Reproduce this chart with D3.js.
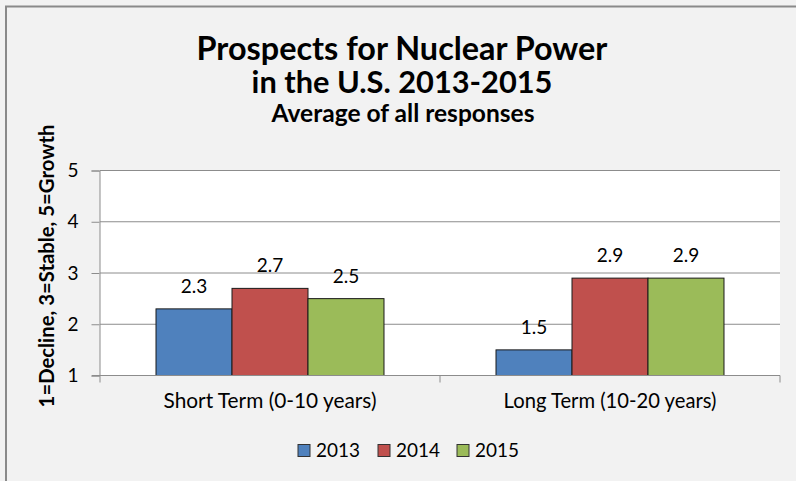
<!DOCTYPE html>
<html>
<head>
<meta charset="utf-8">
<script src="https://cdn.jsdelivr.net/npm/d3@7"></script>
<style>
  html, body { margin: 0; padding: 0; background: #f2f2f2; }
  svg { display: block; font-family: Lato, "Open Sans", sans-serif; }
</style>
</head>
<body>
<div id="chart"></div>
<script>
// Chart data
var categories = ["Short Term (0-10 years)", "Long Term (10-20 years)"];
var seriesNames = ["2013", "2014", "2015"];
var values2013 = [2.3, 1.5];
var values2014 = [2.7, 2.9];
var values2015 = [2.5, 2.9];
var yTicks = [1, 2, 3, 4, 5];
var colors = ["#4f81bd", "#c0504d", "#9bbb59"];

var W = 796, H = 481;
var plot = {left: 100, right: 780, top: 170.5, bottom: 375.5};

var svg = d3.select('#chart').append('svg').attr('width', W).attr('height', H);

// background + frame (only top/left edge is visible in the crop)
svg.append('rect').attr('width', W).attr('height', H).attr('fill', '#f2f2f2');
svg.append('path').attr('d', 'M6,' + H + 'V6.5H' + W)
  .attr('fill', 'none').attr('stroke', '#8a8a8a').attr('stroke-width', 2);

// shrink/grow the font so the text spans a given width
function fit(sel, w) {
  var fs = parseFloat(sel.attr('font-size'));
  var len = sel.node().getComputedTextLength();
  sel.attr('font-size', (fs * w / len).toFixed(2));
  return sel;
}

// titles
fit(svg.append('text').attr('x', 402).attr('y', 60).attr('text-anchor', 'middle')
  .attr('font-size', 28).attr('font-weight', 'bold').attr('fill', '#000')
  .text('Prospects for Nuclear Power'), 411);
fit(svg.append('text').attr('x', 402).attr('y', 93).attr('text-anchor', 'middle')
  .attr('font-size', 28).attr('font-weight', 'bold').attr('fill', '#000')
  .text('in the U.S. 2013-2015'), 301);
fit(svg.append('text').attr('x', 403).attr('y', 122).attr('text-anchor', 'middle')
  .attr('font-size', 19).attr('font-weight', 'bold').attr('fill', '#000')
  .text('Average of all responses'), 263);

// scales
var x0 = d3.scaleBand().domain(categories).range([plot.left, plot.right]);
var x1 = d3.scaleBand().domain(seriesNames).range([0, x0.bandwidth()])
  .paddingInner(0).paddingOuter(0.737);
var y = d3.scaleLinear().domain([1, 5]).range([plot.bottom, plot.top]);

// plot area
svg.append('rect').attr('x', plot.left).attr('y', plot.top)
  .attr('width', plot.right - plot.left).attr('height', plot.bottom - plot.top)
  .attr('fill', '#fff');

// grid lines + y ticks
svg.append('g').selectAll('line').data(yTicks.slice(1)).enter().append('line')
  .attr('x1', plot.left).attr('x2', plot.right)
  .attr('y1', function(d) { return y(d); }).attr('y2', function(d) { return y(d); })
  .attr('stroke', '#8c8c8c').attr('stroke-width', 1);

var yAxis = svg.append('g').attr('transform', 'translate(' + (plot.left - 0.5) + ',0)')
  .call(d3.axisLeft(y).tickValues(yTicks).tickSize(8).tickPadding(13).tickFormat(d3.format('d')));
yAxis.select('.domain').attr('stroke', '#8c8c8c');
yAxis.selectAll('.tick line').attr('stroke', '#8c8c8c');
yAxis.selectAll('.tick text').attr('font-size', 19).attr('fill', '#000')
  .attr('font-family', 'Lato, sans-serif');

// bars
var table = categories.map(function(c, i) {
  return {cat: c, vals: [values2013[i], values2014[i], values2015[i]]};
});

var groups = svg.append('g').selectAll('g').data(table).enter().append('g')
  .attr('transform', function(d) { return 'translate(' + x0(d.cat) + ',0)'; });

var bars = groups.selectAll('g').data(function(d) {
  return d.vals.map(function(v, j) { return {s: seriesNames[j], v: v, c: colors[j]}; });
}).enter().append('g');

bars.append('rect')
  .attr('x', function(d) { return x1(d.s); })
  .attr('y', function(d) { return y(d.v); })
  .attr('width', x1.bandwidth())
  .attr('height', function(d) { return y(1) - y(d.v); })
  .attr('fill', function(d) { return d.c; })
  .attr('stroke', '#1a1a1a').attr('stroke-width', 1);

bars.append('text')
  .attr('x', function(d) { return x1(d.s) + x1.bandwidth() / 2; })
  .attr('y', function(d) { return y(d.v) - 16; })
  .attr('text-anchor', 'middle').attr('font-size', 19).attr('fill', '#000')
  .text(function(d) { return d3.format('.1f')(d.v); });

// x axis
var xAxis = svg.append('g').attr('transform', 'translate(0,' + plot.bottom + ')');
xAxis.append('line').attr('x1', plot.left - 8).attr('x2', plot.right)
  .attr('stroke', '#8c8c8c');
xAxis.selectAll('.tk').data([plot.left, x0(categories[1]), plot.right]).enter().append('line')
  .attr('x1', function(d) { return d; }).attr('x2', function(d) { return d; })
  .attr('y1', 0).attr('y2', 7).attr('stroke', '#8c8c8c');
xAxis.selectAll('text').data(categories).enter().append('text')
  .attr('x', function(d) { return x0(d) + x0.bandwidth() / 2; })
  .attr('y', 32).attr('text-anchor', 'middle').attr('font-size', 19).attr('fill', '#000')
  .text(function(d) { return d; })
  .each(function() { fit(d3.select(this), 213); });

// y axis title
fit(svg.append('text').attr('transform', 'translate(54,266) rotate(-90)')
  .attr('text-anchor', 'middle').attr('font-size', 18).attr('font-weight', 'bold').attr('fill', '#000')
  .text('1=Decline, 3=Stable, 5=Growth'), 283);

// legend
var legendX = [298, 378, 457];
var legend = svg.append('g').selectAll('g').data(seriesNames).enter().append('g')
  .attr('transform', function(d, i) { return 'translate(' + legendX[i] + ',444.5)'; });
legend.append('rect').attr('width', 12).attr('height', 12)
  .attr('fill', function(d, i) { return colors[i]; })
  .attr('stroke', '#333').attr('stroke-width', 1);
legend.append('text').attr('x', 18).attr('y', 12.5).attr('font-size', 19).attr('fill', '#000')
  .text(function(d) { return d; })
  .each(function() { fit(d3.select(this), 44); });
</script>
</body>
</html>
